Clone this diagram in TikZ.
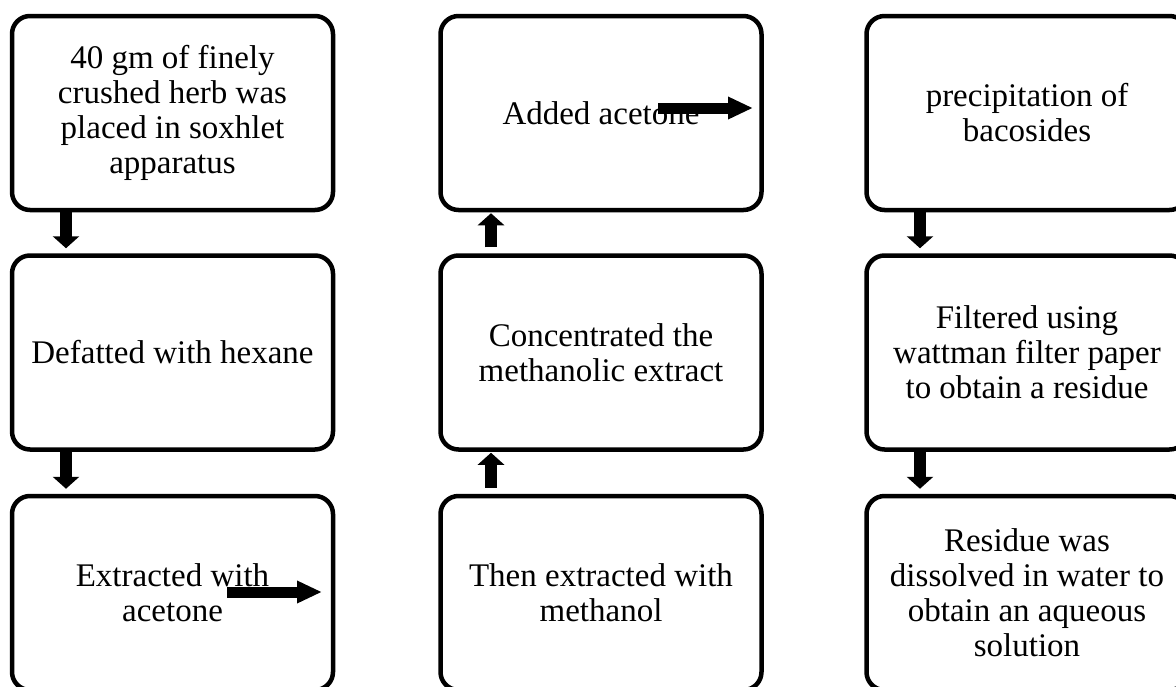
\documentclass[tikz,border=0pt]{standalone}
\usepackage{fontspec}
\setmainfont{Liberation Serif}
\usetikzlibrary{arrows.meta}
\begin{document}
\begin{tikzpicture}[x=1pt,y=-1pt,
  box/.style={draw, line width=4.5pt, rounded corners=18pt, minimum width=321pt,
    minimum height=194pt, align=center, inner sep=0pt,
    font=\fontsize{33}{35}\selectfont},
  varrow/.style={line width=12pt, -{Triangle[length=12pt,width=26pt]}},
  harrow/.style={line width=11pt, -{Triangle[length=25pt,width=21pt]}}]
\useasboundingbox (0,0) rectangle (1176,686);
\clip (0,0) rectangle (1176,686);

% column 1
\node[box] (a1) at (172.5,113) {40 gm of finely\\crushed herb was\\placed in soxhlet\\apparatus};
\node[box] (a2) at (172.5,352.5) {Defatted with hexane};
\node[box] (a3) at (172.5,593) {Extracted with\\acetone};
% column 2
\node[box] (b1) at (601,113) {Added acetone};
\node[box] (b2) at (601,352.5) {Concentrated the\\methanolic extract};
\node[box] (b3) at (601,593) {Then extracted with\\methanol};
% column 3
\node[box] (c1) at (1027,113) {precipitation of\\bacosides};
\node[box] (c2) at (1027,352.5) {Filtered using\\wattman filter paper\\to obtain a residue};
\node[box] (c3) at (1027,593) {Residue was\\dissolved in water to\\obtain an aqueous\\solution};

\coordinate (x1) at (66,0);
\coordinate (x2) at (491,0);
\coordinate (x3) at (920,0);

\draw[varrow, shorten >=5pt] (a1.south -| x1) -- (a2.north -| x1);
\draw[varrow, shorten >=5pt] (a2.south -| x1) -- (a3.north -| x1);
\draw[varrow, shorten <=6pt, shorten >=1pt] (b3.north -| x2) -- (b2.south -| x2);
\draw[varrow, shorten <=6pt, shorten >=1pt] (b2.north -| x2) -- (b1.south -| x2);
\draw[varrow, shorten >=5pt] (c1.south -| x3) -- (c2.north -| x3);
\draw[varrow, shorten >=5pt] (c2.south -| x3) -- (c3.north -| x3);

\coordinate (h1s) at (227,592);
\coordinate (h1e) at (322,592);
\coordinate (h2s) at (658,108);
\coordinate (h2e) at (753,108);
\draw[harrow] (h1s) -- (h1e);
\draw[harrow] (h2s) -- (h2e);
\end{tikzpicture}
\end{document}
